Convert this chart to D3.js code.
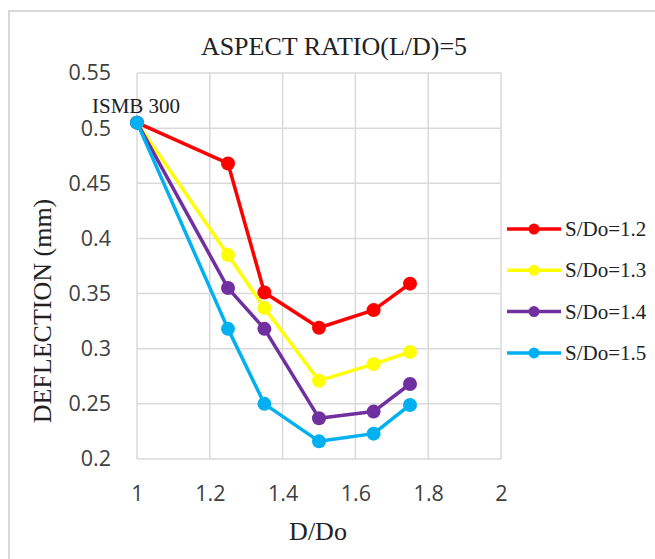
<!DOCTYPE html>
<meta charset="utf-8">
<style>
body { margin: 0; background: #fff; }
.grid line { stroke: #D9D9D9; stroke-width: 1.5px; }
.axis text { font-family: "Open Sans", sans-serif; font-size: 21.5px; fill: #404040; }
.serif { font-family: "Liberation Serif", "Times New Roman", serif; fill: #222; }
.series { fill: none; stroke-width: 3.5px; stroke-linejoin: round; }
</style>
<body>
<svg width="655" height="559"></svg>
<script src="https://d3js.org/d3.v7.min.js"></script>
<script>

// data
var ratios = [1, 1.25, 1.35, 1.5, 1.65, 1.75];
var seriesNames = ["S/Do=1.2", "S/Do=1.3", "S/Do=1.4", "S/Do=1.5"];
var colours = ["#FF0000", "#FFFF00", "#7030A0", "#00B0F0"];
var defl12 = [0.505, 0.468, 0.351, 0.319, 0.335, 0.359];
var defl13 = [0.505, 0.385, 0.337, 0.271, 0.286, 0.297];
var defl14 = [0.505, 0.355, 0.318, 0.237, 0.243, 0.268];
var defl15 = [0.505, 0.318, 0.250, 0.216, 0.223, 0.249];
var xTicks = [1, 1.2, 1.4, 1.6, 1.8, 2];
var yTicks = [0.2, 0.25, 0.3, 0.35, 0.4, 0.45, 0.5, 0.55];

var allSeries = [defl12, defl13, defl14, defl15];

var margin = {top: 73, left: 137},
    width = 364,
    height = 386;

var svg = d3.select("svg");

// chart border (only top and left visible in the crop)
svg.append("rect")
  .attr("x", 9).attr("y", 11)
  .attr("width", 700).attr("height", 600)
  .attr("fill", "none")
  .attr("stroke", "#D9D9D9")
  .attr("stroke-width", 2);

var x = d3.scaleLinear().domain([1, 2]).range([0, width]);
var y = d3.scaleLinear().domain([0.2, 0.55]).range([height, 0]);

var g = svg.append("g")
  .attr("transform", "translate(" + margin.left + "," + margin.top + ")");

// gridlines
var grid = g.append("g").attr("class", "grid");
grid.selectAll(".gx").data(xTicks).enter().append("line")
  .attr("x1", function(d) { return x(d); })
  .attr("x2", function(d) { return x(d); })
  .attr("y1", 0).attr("y2", height);
grid.selectAll(".gy").data(yTicks).enter().append("line")
  .attr("x1", 0).attr("x2", width)
  .attr("y1", function(d) { return y(d); })
  .attr("y2", function(d) { return y(d); });

// axes
var xAxis = d3.axisBottom(x).tickValues(xTicks).tickSize(0).tickPadding(27)
  .tickFormat(function(d) { return d; });
var yAxis = d3.axisLeft(y).tickValues(yTicks).tickSize(0).tickPadding(26)
  .tickFormat(function(d) { return d; });

g.append("g")
  .attr("class", "axis")
  .attr("transform", "translate(0," + height + ")")
  .call(xAxis)
  .call(function(s) { s.select(".domain").remove(); });

g.append("g")
  .attr("class", "axis")
  .call(yAxis)
  .call(function(s) { s.select(".domain").remove(); });

// lines + markers
var line = d3.line()
  .x(function(d, i) { return x(ratios[i]); })
  .y(function(d) { return y(d); });

allSeries.forEach(function(vals, k) {
  g.append("path")
    .datum(vals)
    .attr("class", "series")
    .attr("stroke", colours[k])
    .attr("d", line);

  g.selectAll(".pt" + k).data(vals).enter().append("circle")
    .attr("class", "pt" + k)
    .attr("cx", function(d, i) { return x(ratios[i]); })
    .attr("cy", function(d) { return y(d); })
    .attr("r", 7)
    .attr("fill", colours[k]);
});

// point label
g.append("text")
  .attr("class", "serif")
  .attr("x", x(ratios[0]) - 45)
  .attr("y", y(defl12[0]) - 10)
  .style("font-size", "21px")
  .text("ISMB 300");

// titles
svg.append("text")
  .attr("class", "serif")
  .attr("x", 334).attr("y", 55)
  .attr("text-anchor", "middle")
  .style("font-size", "26px")
  .text("ASPECT RATIO(L/D)=5");

svg.append("text")
  .attr("class", "serif")
  .attr("x", 318).attr("y", 540)
  .attr("text-anchor", "middle")
  .style("font-size", "26px")
  .text("D/Do");

svg.append("text")
  .attr("class", "serif")
  .attr("transform", "translate(51,311) rotate(-90)")
  .attr("text-anchor", "middle")
  .style("font-size", "26px")
  .text("DEFLECTION (mm)");

// legend
var legend = svg.append("g").attr("transform", "translate(507,229)");
var item = legend.selectAll(".item").data(seriesNames).enter().append("g")
  .attr("transform", function(d, i) { return "translate(0," + (i * 41.3) + ")"; });
item.append("line")
  .attr("x1", 0).attr("x2", 54)
  .attr("stroke", function(d, i) { return colours[i]; })
  .attr("stroke-width", 3.5);
item.append("circle")
  .attr("cx", 27).attr("r", 5.5)
  .attr("fill", function(d, i) { return colours[i]; });
item.append("text")
  .attr("class", "serif")
  .attr("x", 58).attr("y", 7)
  .style("font-size", "21px")
  .text(function(d) { return d; });

</script>
</body>
